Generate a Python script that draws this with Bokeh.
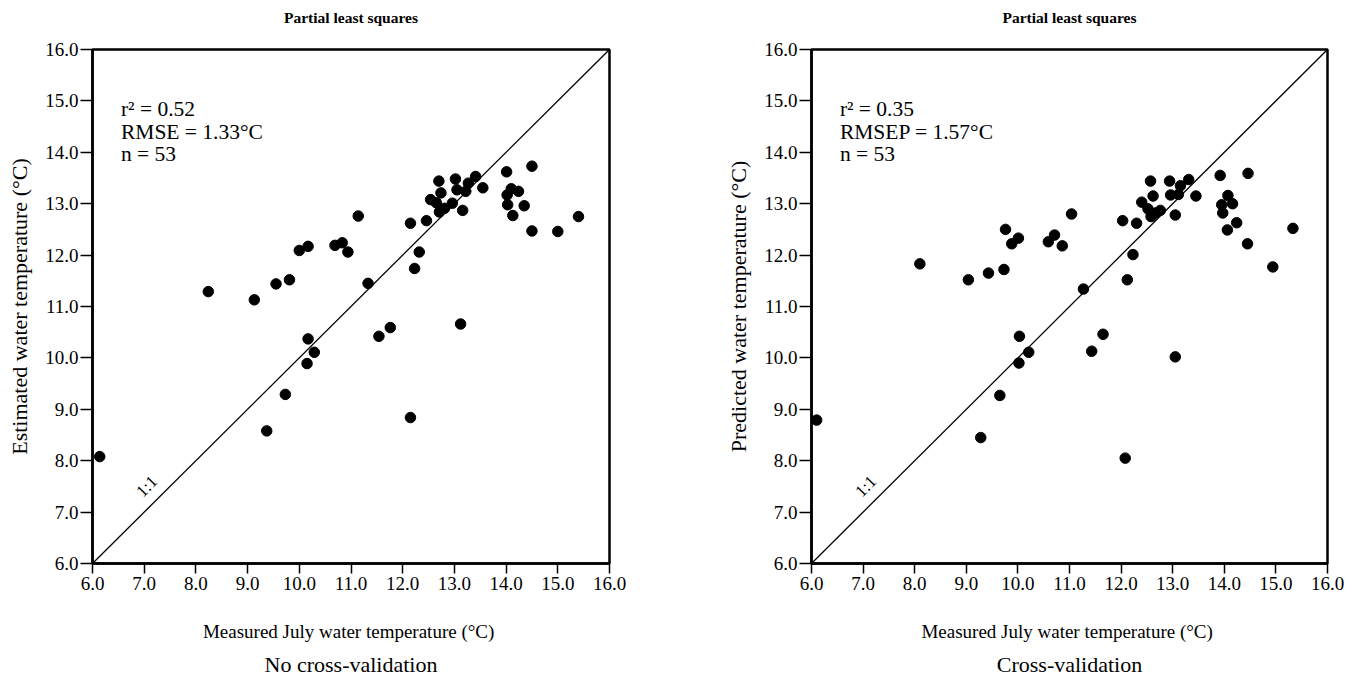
import math
from bokeh.plotting import figure
from bokeh.models import Range1d, FixedTicker, Title, LinearAxis
from bokeh.layouts import row
from bokeh.core.properties import value
from bokeh.embed import file_html
from bokeh.resources import INLINE

# ---- data: no cross-validation (PLS estimated) ----
nocv_measured = [6.14, 8.24, 9.13, 9.55, 9.81, 11.33, 11.54, 11.76, 10.17, 10.29, 10.15, 9.73, 9.37,
                 11.14, 10.00, 10.17, 10.69, 10.83, 10.94,
                 12.15, 12.46, 12.32, 12.23, 12.70, 12.74, 12.54, 12.65, 12.71, 12.81, 12.96,
                 13.02, 13.05, 13.22, 13.27, 13.41, 13.16, 13.55,
                 14.01, 14.50, 14.10, 14.24, 14.02, 14.03, 14.35, 14.13, 14.50, 15.00, 15.40,
                 13.12, 12.15]
nocv_estimated = [8.08, 11.29, 11.13, 11.44, 11.52, 11.45, 10.42, 10.59, 10.37, 10.11, 9.89, 9.29, 8.58,
                  12.76, 12.09, 12.17, 12.19, 12.24, 12.06,
                  12.62, 12.67, 12.06, 11.74, 13.44, 13.21, 13.08, 13.02, 12.84, 12.91, 13.01,
                  13.48, 13.27, 13.24, 13.40, 13.53, 12.87, 13.31,
                  13.62, 13.73, 13.29, 13.24, 13.17, 12.98, 12.96, 12.77, 12.47, 12.46, 12.75,
                  10.66, 8.84]

# ---- data: cross-validation (PLS predicted) ----
cv_measured = [8.10, 9.04, 9.43, 9.73, 9.76, 10.01, 9.88, 10.59, 10.71, 10.86, 11.04, 11.27, 10.03, 11.65,
               12.12, 11.43, 13.05, 12.08,
               6.10, 10.21, 10.02, 9.65, 9.28,
               12.03, 12.30, 12.23,
               12.57, 12.62, 12.40, 12.52, 12.58, 12.67, 12.76, 12.94, 12.96, 13.11, 13.15, 13.31, 13.05, 13.45,
               13.92, 14.46, 14.07, 14.16, 13.95, 13.97, 14.24, 14.06, 14.45, 15.33, 14.94]
cv_predicted = [11.83, 11.52, 11.65, 11.72, 12.50, 12.33, 12.22, 12.26, 12.39, 12.18, 12.80, 11.34, 10.42, 10.46,
                11.52, 10.13, 10.02, 8.05,
                8.79, 10.11, 9.90, 9.27, 8.45,
                12.67, 12.62, 12.01,
                13.44, 13.15, 13.03, 12.90, 12.75, 12.82, 12.87, 13.44, 13.17, 13.18, 13.35, 13.47, 12.78, 13.15,
                13.55, 13.59, 13.16, 13.00, 12.98, 12.82, 12.63, 12.49, 12.22, 12.52, 11.77]

ticks = [6, 7, 8, 9, 10, 11, 12, 13, 14, 15, 16]
tick_labels = ["6.0", "7.0", "8.0", "9.0", "10.0", "11.0", "12.0", "13.0", "14.0", "15.0", "16.0"]

title_text = "Partial least squares"
xlabel = "Measured July water  temperature (°C)"
ylabels = ["Estimated water temperature (°C)", "Predicted water temperature (°C)"]
subtitles = ["No cross-validation", "Cross-validation"]
stats = [["r² = 0.52", "RMSE = 1.33°C", "n = 53"],
         ["r² = 0.35", "RMSEP = 1.57°C", "n = 53"]]

FONT = "Liberation Serif"


def make_panel(xs, ys, ylabel, subtitle, stat_lines, frame_w, left_border, right_border):
    p = figure(frame_width=frame_w, frame_height=514, output_backend="svg", toolbar_location=None,
               x_range=Range1d(6, 16), y_range=Range1d(6, 16),
               min_border_left=left_border, min_border_right=right_border,
               min_border_top=49, min_border_bottom=114)
    p.grid.visible = False
    p.outline_line_color = "black"
    p.outline_line_width = 2.5
    p.background_fill_color = "white"
    p.border_fill_color = "white"

    xax = p.below[0]
    yax = p.left[0]

    for ax in (xax, yax):
        ax.ticker = FixedTicker(ticks=ticks)
        ax.major_label_overrides = {t: l for t, l in zip(ticks, tick_labels)}
        ax.major_label_text_font = FONT
        ax.major_label_text_font_size = "19px"
        ax.major_label_text_color = "black"
        ax.axis_line_width = 2.5
        ax.axis_line_color = "black"
        ax.major_tick_line_width = 1.5
        ax.major_tick_line_color = "black"
        ax.major_tick_in = 0
        ax.minor_tick_line_color = None
        ax.axis_label_text_font = FONT
        ax.axis_label_text_font_style = "normal"
        ax.axis_label_text_color = "black"

    xax.major_tick_out = 10
    xax.major_label_standoff = 3
    xax.axis_label = xlabel
    xax.axis_label_text_font_size = "19px"
    xax.axis_label_standoff = 28

    yax.major_tick_out = 12
    yax.major_label_standoff = 2
    yax.axis_label = ylabel
    yax.axis_label_text_font_size = "22px"
    yax.axis_label_standoff = 10

    # chart heading: label of a tick-less axis above the frame
    top_axis = LinearAxis(ticker=FixedTicker(ticks=[]), axis_line_color=None,
                          major_tick_line_color=None, minor_tick_line_color=None,
                          major_tick_out=0, major_tick_in=0, minor_tick_out=0, minor_tick_in=0,
                          major_label_standoff=0,
                          axis_label=title_text, axis_label_standoff=24,
                          axis_label_text_font=FONT, axis_label_text_font_size="15.5px",
                          axis_label_text_font_style="bold", axis_label_text_color="black")
    p.add_layout(top_axis, "above")

    sub = Title(text=subtitle, align="center", text_font=FONT, text_font_size="22px",
                text_font_style="normal", text_color="black", standoff=10)
    p.add_layout(sub, "below")

    # 1:1 line
    p.line([6, 16], [6, 16], line_color="black", line_width=1.3)
    p.text(x=[7.05], y=[7.5], text=["1:1"], angle=math.pi / 4, text_align="center",
           text_baseline="middle", text_font=value(FONT), text_font_size="17px", text_color="black")

    # points
    p.scatter(xs, ys, size=10.5, color="black")

    # statistics
    p.text(x=[6.55] * 3, y=[14.85, 14.39, 13.96], text=stat_lines, text_align="left",
           text_baseline="alphabetic", text_font=value(FONT), text_font_size="21.5px", text_color="black")
    return p


p1 = make_panel(nocv_measured, nocv_estimated, ylabels[0], subtitles[0], stats[0], 517, 92, 71)
p2 = make_panel(cv_measured, cv_predicted, ylabels[1], subtitles[1], stats[1], 516, 131, 28)

layout = row(p1, p2)
open("out.html", "w").write(file_html(layout, INLINE))
